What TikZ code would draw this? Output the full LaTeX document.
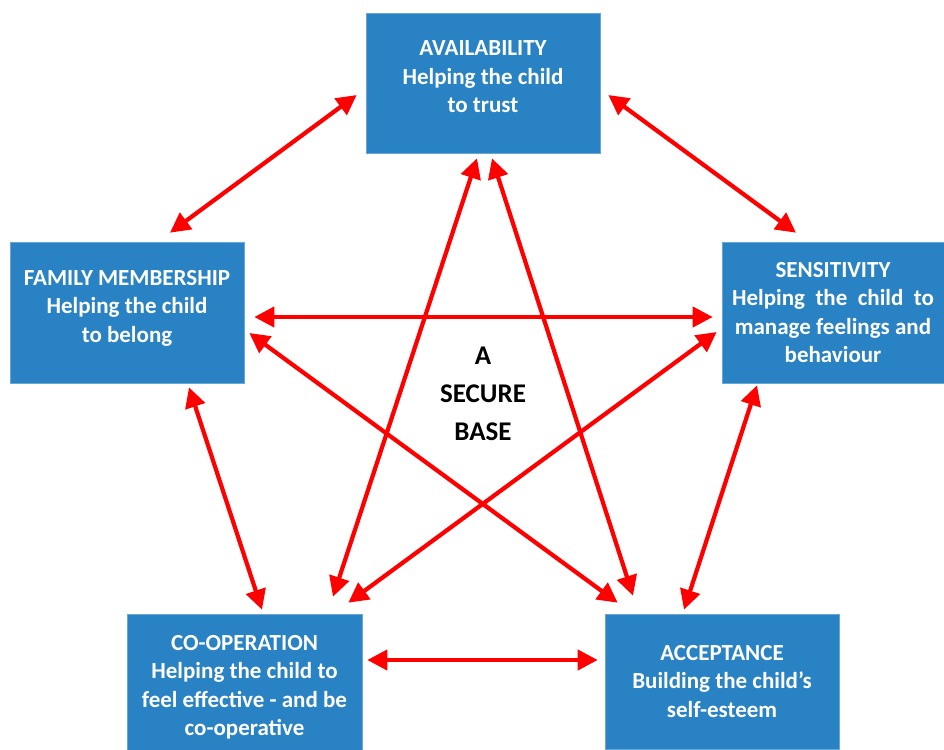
\documentclass[tikz,border=0pt]{standalone}
\usepackage{fontspec}
\setmainfont{Carlito}
\usepackage{tikz}
\usetikzlibrary{arrows.meta,calc}

\definecolor{boxblue}{RGB}{41,130,196}
\definecolor{arrred}{RGB}{255,0,0}

\begin{document}
\begin{tikzpicture}[x=1pt,y=1pt,
    box/.style={shape=rectangle,fill=boxblue,draw=boxblue!70!white,line width=0.6pt,
        inner sep=0pt,text=white,align=center,
        font=\fontsize{23}{28.5}\selectfont\bfseries},
    arr/.style={draw=arrred,line width=4.2pt,
        {Triangle[length=20pt,width=20pt]}-{Triangle[length=20pt,width=20pt]}}]
        \useasboundingbox (0,0) rectangle (944,-749);

        \node[box,minimum width=234pt,minimum height=140pt,text depth=12pt] (avail) at (483,-83)
            {AVAILABILITY\\Helping the child\\to trust};
        \node[box,minimum width=234pt,minimum height=141pt,text depth=13pt] (family) at (127,-312.5)
            {FAMILY MEMBERSHIP\\Helping the child\\to belong};
        \node[box,minimum width=222pt,minimum height=141pt] (sens) at (833,-312.5)
            {SENSITIVITY\\Helping\ \ the\ \ child\ \ to\\manage feelings and\\behaviour};
        \node[box,minimum width=235pt,minimum height=147pt] (coop) at (244.5,-687.5)
            {CO-OPERATION\\Helping the child to\\feel effective - and be\\co-operative};
        \node[box,minimum width=234pt,minimum height=135pt] (accept) at (722,-681.5)
            {ACCEPTANCE\\Building the child’s\\self-esteem};

        \node[align=center,font=\fontsize{27}{38}\selectfont\bfseries] (base) at (483,-394)
            {A\\SECURE\\BASE};

        % outer pentagon
        \path ($(avail.west)+(-9,-12)$) edge[arr] ($(family.north)+(43,9)$);
        \path ($(avail.east)+(8,-12)$) edge[arr] ($(sens.north)+(-37,9)$);
        \path ($(family.south)+(62,-4)$) edge[arr] ($(coop.north)+(17.5,4)$);
        \path ($(sens.south)+(-76,-2)$) edge[arr] ($(accept.north)+(-38,4)$);
        \path ($(coop.east)+(5,27.5)$) edge[arr] ($(accept.west)+(-7,21.5)$);

        % inner star
        \path ($(family.east)+(10,-4.5)$) edge[arr] ($(sens.west)+(-9,-4.5)$);
        \path ($(avail.south)+(-6,-5)$) edge[arr] ($(coop.north)+(88.5,17)$);
        \path ($(avail.south)+(9,-5)$) edge[arr] ($(accept.north)+(-89,18)$);
        \path ($(family.east)+(5,-20.5)$) edge[arr] ($(accept.north west)+(13,11)$);
        \path ($(sens.west)+(-5,-19.5)$) edge[arr] ($(coop.north east)+(-14,11)$);
    \end{tikzpicture}
\end{document}
